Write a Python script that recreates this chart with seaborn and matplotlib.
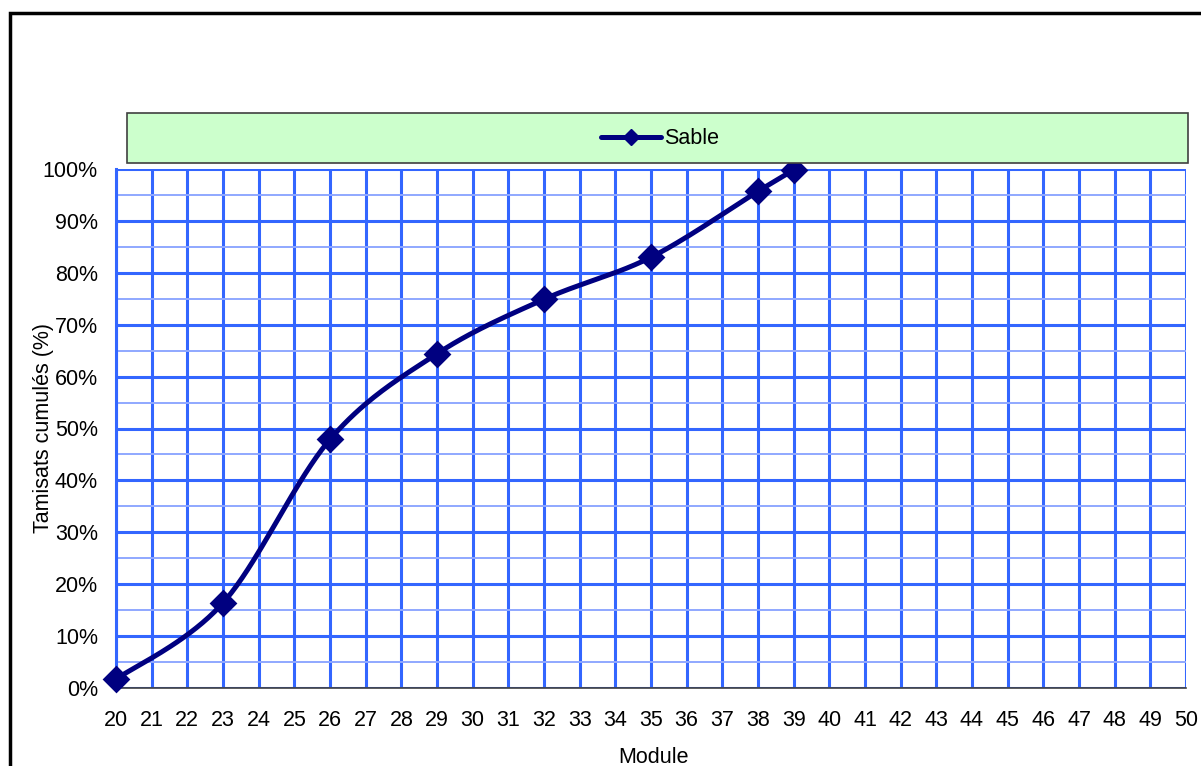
import numpy as np
import pandas as pd
import matplotlib
matplotlib.use("Agg")
import matplotlib.pyplot as plt
from matplotlib.lines import Line2D
from matplotlib.patches import Rectangle
from matplotlib.ticker import MultipleLocator, PercentFormatter
import seaborn as sns

# Sieve curve of the sand: fineness module vs cumulative passing
module = [20, 23, 26, 29, 32, 35, 38, 39]
passing = [0.017, 0.164, 0.479, 0.644, 0.749, 0.830, 0.957, 0.998]
series_name = "Sable"
x_ticks = list(range(20, 51))
y_ticks = [i / 10 for i in range(11)]
x_label = "Module"
y_label = "Tamisats cumulés (%)"

sns.set_style("white")
plt.rcParams["font.family"] = ["Liberation Sans", "DejaVu Sans"]
plt.rcParams.update({
    "text.color": "black",
    "axes.labelcolor": "black",
    "xtick.labelcolor": "black",
    "ytick.labelcolor": "black",
})

NAVY = "#000080"
GRID = "#3366FF"
GRID_MINOR = "#8FA8FF"


def smooth_curve(xs, ys, steps=40):
    """Cubic Bezier smoothing through every point (Catmull-Rom style)."""
    px = np.asarray(xs, float)
    py = np.asarray(ys, float)
    n = len(px)
    out_x, out_y = [], []
    t = np.linspace(0, 1, steps)
    for i in range(n - 1):
        p0 = np.array([px[max(i - 1, 0)], py[max(i - 1, 0)]])
        p1 = np.array([px[i], py[i]])
        p2 = np.array([px[i + 1], py[i + 1]])
        p3 = np.array([px[min(i + 2, n - 1)], py[min(i + 2, n - 1)]])
        c1 = p1 + (p2 - p0) / 6
        c2 = p2 - (p3 - p1) / 6
        b = ((1 - t) ** 3)[:, None] * p1 + (3 * (1 - t) ** 2 * t)[:, None] * c1 \
            + (3 * (1 - t) * t ** 2)[:, None] * c2 + (t ** 3)[:, None] * p2
        out_x.extend(b[:, 0])
        out_y.extend(b[:, 1])
    return out_x, out_y


fig = plt.figure(figsize=(12.01, 7.66), dpi=100)
ax = fig.add_axes([116 / 1201, 78 / 766, 1070 / 1201, 519 / 766])

# outer chart frame
fig.patches.append(Rectangle((10 / 1201, -0.05), 1.2, (766 - 13) / 766 + 0.05,
                             transform=fig.transFigure, fill=False,
                             edgecolor="black", linewidth=2.5, zorder=0))

# legend band
fig.patches.append(Rectangle((127 / 1201, (766 - 163) / 766), 1061 / 1201, 50 / 766,
                             transform=fig.transFigure, facecolor="#CCFFCC",
                             edgecolor="#404040", linewidth=1.2, zorder=1))

sx, sy = smooth_curve(module, passing)
curve = pd.DataFrame({"x": sx, "y": sy})
pts = pd.DataFrame({"x": module, "y": passing})

sns.lineplot(data=curve, x="x", y="y", ax=ax, color=NAVY, linewidth=3.6,
             sort=False, zorder=4, clip_on=False)
sns.scatterplot(data=pts, x="x", y="y", ax=ax, color=NAVY, marker="D", s=200,
                edgecolor=NAVY, linewidth=0, zorder=5, clip_on=False)

ax.set_xlim(20, 50)
ax.set_ylim(0, 1)
ax.set_xticks(x_ticks)
ax.set_yticks(y_ticks)
ax.yaxis.set_minor_locator(MultipleLocator(0.05))
ax.yaxis.set_major_formatter(PercentFormatter(1.0, decimals=0))

ax.grid(True, which="major", axis="both", color=GRID, linewidth=2.2, zorder=1)
ax.grid(True, which="minor", axis="y", color=GRID_MINOR, linewidth=1.4, zorder=1)
ax.set_axisbelow(True)

for side in ["top", "right"]:
    ax.spines[side].set_visible(False)
ax.spines["left"].set_color(GRID)
ax.spines["left"].set_linewidth(2.2)
ax.spines["bottom"].set_color("#404040")
ax.spines["bottom"].set_linewidth(1.2)

ax.tick_params(axis="both", which="major", labelsize=15.5, direction="out",
               length=7, width=1, color="#404040", pad=6, labelcolor="black")
ax.tick_params(axis="x", which="major", pad=9)
ax.tick_params(axis="y", which="minor", length=0)

ax.set_xlabel(x_label, fontsize=15.5, color="black")
ax.set_ylabel(y_label, fontsize=15.5, color="black")
ax.xaxis.set_label_coords((653 - 116) / 1070, (688 - 747) / 519)
ax.yaxis.set_label_coords((54 - 116) / 1070, (688 - 428) / 519)

handle = Line2D([], [], color=NAVY, linewidth=3.6, marker="D", markersize=8)
leg = fig.legend([handle], [series_name], loc="center",
                 bbox_to_anchor=(660 / 1201, (766 - 139) / 766),
                 frameon=False, fontsize=15.5, handlelength=2.8, handletextpad=0.15)
for txt in leg.get_texts():
    txt.set_color("black")

fig.savefig("out.png", dpi=100)
